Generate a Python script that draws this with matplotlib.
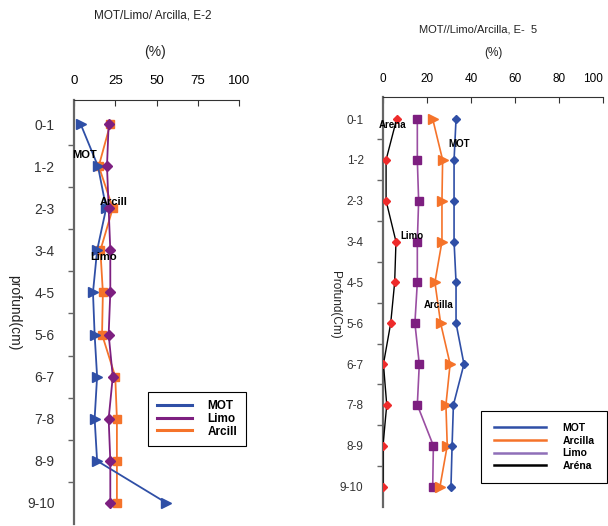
import numpy as np
import matplotlib
matplotlib.use('Agg')
import matplotlib.pyplot as plt
from matplotlib.lines import Line2D

plt.rcParams['font.family'] = ['Liberation Sans', 'DejaVu Sans']

#####
# data
depths = ['0-1', '1-2', '2-3', '3-4', '4-5', '5-6', '6-7', '7-8', '8-9', '9-10']

# E-2 (left)
mot_e2 = [4, 14.5, 19.5, 14, 11.5, 12.5, 14, 12.5, 14, 56]
limo_e2 = [21, 20, 21, 22, 22, 21, 23.5, 21, 22, 22]
arcill_e2 = [22, 15, 23.5, 16, 17.5, 17, 25, 26, 26, 26]

# E-5 (right)
mot_e5 = [33.2, 32.3, 32.3, 32.3, 33.2, 33.2, 36.8, 32, 31.4, 30.9]
arcilla_e5 = [22.6, 27.1, 26.8, 26.8, 23.6, 26.2, 30.5, 28.6, 29.2, 25.9]
limo_e5 = [15.6, 15.6, 16.2, 15.6, 15.6, 14.5, 16.5, 15.6, 22.9, 22.6]
arena_e5 = [6.2, 1.4, 1.4, 5.9, 5.3, 3.5, 0.2, 1.7, 0, 0]

blue = '#2f4fa6'
purple = '#7d1f80'
orange = '#f5732a'
red = '#ee2b2b'
gray = '#666666'

fig = plt.figure(figsize=(6.08, 5.26), dpi=100)
ax1 = fig.add_axes([74/608, 1-524/526, 165/608, 424/526])
ax2 = fig.add_axes([383/608, 1-507/526, 220/608, 410/526])

yy = np.arange(len(depths))


def style(ax, xticks, ymin, fs_y, fs_x):
    for s in ['right', 'bottom']:
        ax.spines[s].set_visible(False)
    ax.spines['left'].set_color(gray)
    ax.spines['left'].set_linewidth(1.6)
    ax.spines['top'].set_color('#333333')
    ax.spines['top'].set_linewidth(0.8)
    ax.xaxis.tick_top()
    ax.set_xlim(0, 100)
    ax.set_xticks(xticks)
    ax.tick_params(axis='x', direction='in', length=4, pad=9, labelsize=fs_x, color='#333333')
    ax.set_ylim(9.5, ymin)
    ax.set_yticks(yy)
    ax.set_yticklabels(depths)
    ax.tick_params(axis='y', which='major', length=0, pad=14, labelsize=fs_y, labelcolor='#333333')
    ax.set_yticks(yy[:-1] + 0.5, minor=True)
    ax.tick_params(axis='y', which='minor', direction='out', length=4, color=gray, width=1)
    ax.patch.set_visible(False)


# left panel
style(ax1, [0, 25, 50, 75, 100], -0.57, 10, 9.5)
ax1.plot(arcill_e2, yy, color=orange, lw=1.3, marker='s', ms=5.5, zorder=3)
ax1.plot(mot_e2, yy, color=blue, lw=1.3, marker='>', ms=7.5, zorder=4)
ax1.plot(limo_e2, yy, color=purple, lw=1.3, marker='D', ms=5, zorder=5)
ax1.text(6.7, 0.73, 'MOT', fontsize=8, fontweight='bold', ha='center', va='center', zorder=6)
ax1.text(24, 1.85, 'Arcill', fontsize=8, fontweight='bold', ha='center', va='center', zorder=6)
ax1.text(18, 3.15, 'Limo', fontsize=8, fontweight='bold', ha='center', va='center', zorder=6)

fig.text(153/608, 1-16/526, 'MOT/Limo/ Arcilla, E-2', fontsize=8.5, ha='center', va='center', color='#222222')
fig.text(155/608, 1-52/526, '(%)', fontsize=10, ha='center', va='center', color='#222222')
fig.text(14/608, 1-313/526, 'profund(cm)', fontsize=10, rotation=-90, ha='center', va='center', color='#222222')

h1 = [Line2D([0], [0], color=blue, lw=2.2),
      Line2D([0], [0], color=purple, lw=2.2),
      Line2D([0], [0], color=orange, lw=2.2)]
leg1 = fig.legend(h1, ['MOT', 'Limo', 'Arcill'], loc='center',
                  bbox_to_anchor=(197/608, 1-419/526), frameon=True, fancybox=False,
                  edgecolor='black', framealpha=1, handlelength=3.0, handletextpad=1.3,
                  borderpad=0.7, labelspacing=0.05, borderaxespad=0,
                  prop={'size': 8.5, 'weight': 'bold'})
leg1.get_frame().set_linewidth(0.8)

# right panel
style(ax2, [0, 20, 40, 60, 80, 100], -0.54, 8.5, 8.5)
ax2.get_xticklabels()[-1].set_horizontalalignment('right')
ax2.plot(arena_e5, yy, color='black', lw=1.0, marker='D', ms=4.5, mfc=red, mec=red, zorder=3)
ax2.plot(limo_e5, yy, color='#9a4ea2', lw=1.2, marker='s', ms=6, mfc=purple, mec=purple, zorder=3)
ax2.plot(arcilla_e5, yy, color=orange, lw=1.2, marker='>', ms=7, zorder=3)
ax2.plot(mot_e5, yy, color=blue, lw=1.2, marker='D', ms=4.5, zorder=3)
ax2.text(4.5, 0.15, 'Arena', fontsize=7, fontweight='bold', ha='center', va='center', zorder=6)
ax2.text(34.5, 0.6, 'MOT', fontsize=7, fontweight='bold', ha='center', va='center', zorder=6)
ax2.text(13.2, 2.87, 'Limo', fontsize=7, fontweight='bold', ha='center', va='center', zorder=6)
ax2.text(25.5, 4.56, 'Arcilla', fontsize=7, fontweight='bold', ha='center', va='center', zorder=6)

fig.text(478/608, 1-29/526, 'MOT//Limo/Arcilla, E-  5', fontsize=8, ha='center', va='center', color='#222222')
fig.text(493/608, 1-53/526, '(%)', fontsize=8.5, ha='center', va='center', color='#222222')
fig.text(335/608, 1-305/526, 'Profund(Cm)', fontsize=8.5, rotation=-90, ha='center', va='center', color='#222222')

h2 = [Line2D([0], [0], color=blue, lw=1.8),
      Line2D([0], [0], color=orange, lw=1.8),
      Line2D([0], [0], color='#8f6fb8', lw=1.8),
      Line2D([0], [0], color='black', lw=1.8)]
leg2 = fig.legend(h2, ['MOT', 'Arcilla', 'Limo', 'Aréna'], loc='center',
                  bbox_to_anchor=(544/608, 1-447/526), frameon=True, fancybox=False,
                  edgecolor='black', framealpha=1, handlelength=5, handletextpad=1.6,
                  borderpad=1.2, labelspacing=0.25, borderaxespad=0,
                  prop={'size': 7.5, 'weight': 'bold'})
leg2.get_frame().set_linewidth(0.8)

plt.savefig('out.png', dpi=100)
